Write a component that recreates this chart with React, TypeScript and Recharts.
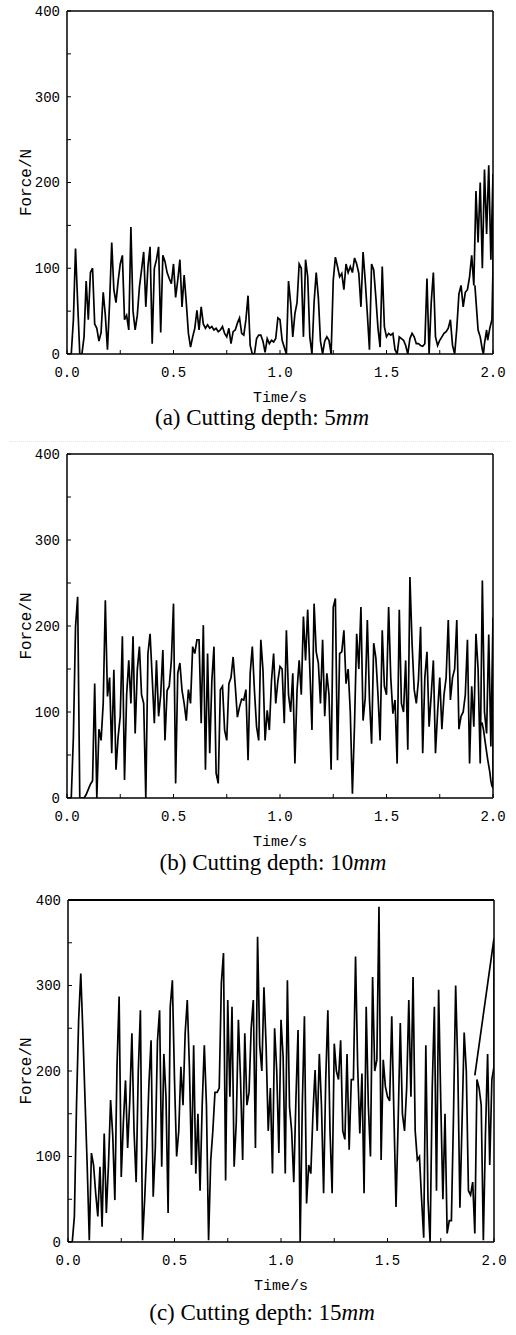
import React from 'react';
import { LineChart, Line, XAxis, YAxis, Label, ReferenceLine } from 'recharts';

const TIME_STEP = 0.01;
const X_TICKS = [0, 0.25, 0.5, 0.75, 1, 1.25, 1.5, 1.75, 2];
const Y_TICKS = [0, 50, 100, 150, 200, 250, 300, 350, 400];
const X_MAX = 2;
const Y_MAX = 400;

// (a) Cutting depth 5mm, sampled every 0.01 s from 0 to 2.0 s
const forceA = [
  0, 0, 0, 40, 123, 60, 0, 0, 20, 85,
  40, 95, 100, 35, 30, 15, 25, 72, 45, 5,
  60, 130, 75, 60, 85, 105, 115, 40, 45, 28,
  148, 50, 28, 45, 78, 98, 119, 55, 102, 125,
  12, 100, 110, 125, 25, 115, 108, 95, 88, 82,
  105, 66, 86, 110, 55, 92, 60, 24, 8, 20,
  30, 51, 28, 55, 35, 30, 34, 30, 32, 28,
  30, 26, 28, 32, 24, 20, 30, 12, 26, 28,
  36, 42, 24, 22, 40, 68, 10, 0, 0, 18,
  22, 22, 15, 2, 18, 12, 16, 14, 18, 42,
  40, 16, 8, 0, 85, 59, 20, 47, 60, 105,
  100, 20, 110, 90, 20, 0, 60, 95, 66, 15,
  0, 15, 20, 16, 0, 86, 113, 102, 90, 94,
  75, 105, 95, 102, 95, 112, 105, 94, 55, 119,
  86, 47, 5, 105, 98, 66, 30, 8, 102, 32,
  20, 24, 22, 24, 5, 0, 20, 18, 16, 10,
  0, 18, 24, 20, 12, 12, 10, 9, 12, 88,
  0, 60, 95, 20, 10, 16, 20, 24, 26, 30,
  40, 10, 0, 30, 70, 80, 55, 72, 75, 90,
  115, 80, 190, 130, 200, 100, 215, 140, 220, 110,
  210,
];
const tailTimeA = [2.0, 1.995, 1.985, 1.975, 1.97, 1.96, 1.955, 1.95, 1.94, 1.93, 1.915];
const tailForceA = [100, 40, 30, 16, 28, 12, 0, 5, 20, 28, 80];

// (b) Cutting depth 10mm
const forceB = [
  0, 0, 0, 71, 199, 234, 0, 0, 0, 4,
  10, 16, 20, 133, 0, 80, 67, 110, 230, 118,
  140, 52, 149, 33, 71, 95, 188, 21, 120, 160,
  110, 188, 75, 149, 176, 120, 110, 0, 168, 191,
  140, 87, 160, 95, 120, 172, 67, 125, 130, 160,
  226, 17, 145, 157, 125, 110, 90, 126, 110, 176,
  168, 184, 184, 87, 201, 33, 168, 52, 136, 176,
  29, 17, 126, 130, 79, 67, 133, 140, 164, 130,
  94, 106, 115, 114, 126, 44, 145, 176, 125, 83,
  67, 184, 149, 67, 102, 79, 136, 168, 110, 136,
  153, 150, 87, 195, 120, 100, 145, 40, 125, 160,
  120, 211, 160, 219, 150, 79, 226, 170, 157, 110,
  184, 95, 145, 120, 33, 222, 232, 44, 168, 170,
  195, 133, 150, 100, 5, 87, 191, 150, 222, 90,
  116, 207, 115, 63, 180, 163, 120, 67, 195, 130,
  120, 222, 140, 98, 114, 40, 219, 110, 100, 160,
  56, 257, 180, 126, 110, 137, 199, 52, 140, 170,
  83, 120, 160, 52, 100, 140, 80, 120, 140, 207,
  114, 140, 150, 207, 80, 95, 100, 120, 184, 40,
  130, 83, 191, 150, 40, 253, 100, 75, 190, 60,
  210,
];
const tailTimeB = [2.0, 1.995, 1.99, 1.985, 1.975, 1.965, 1.955, 1.948];
const tailForceB = [12, 14, 20, 30, 45, 62, 80, 88];

// (c) Cutting depth 15mm
const forceC = [
  0, 0, 0, 30, 160, 260, 314, 244, 166, 90,
  2, 104, 90, 57, 30, 88, 18, 127, 34, 90,
  166, 125, 49, 205, 287, 76, 140, 189, 110, 165,
  244, 130, 70, 200, 271, 2, 50, 110, 185, 236,
  53, 110, 235, 271, 88, 220, 170, 34, 275, 306,
  190, 100, 130, 205, 160, 244, 283, 205, 90, 230,
  80, 150, 60, 160, 230, 160, 2, 95, 130, 175,
  175, 180, 303, 338, 72, 283, 170, 275, 88, 140,
  260, 190, 96, 244, 160, 175, 250, 283, 110, 357,
  230, 200, 298, 230, 130, 180, 80, 250, 200, 104,
  260, 216, 80, 306, 158, 130, 70, 166, 248, 0,
  160, 264, 45, 90, 80, 150, 201, 130, 220, 160,
  57, 190, 271, 130, 57, 232, 200, 190, 236, 130,
  120, 220, 108, 190, 190, 334, 205, 127, 197, 57,
  275, 160, 100, 310, 200, 213, 392, 96, 213, 182,
  170, 165, 264, 150, 41, 140, 256, 150, 130, 180,
  283, 170, 310, 130, 96, 100, 50, 5, 230, 50,
  0, 180, 275, 60, 295, 165, 50, 150, 10, 25,
  25, 150, 300, 205, 40, 140, 245, 200, 60, 55,
  70, 10, 190, 180, 160, 2, 127, 220, 90, 190,
  205,
];
const tailTimeC = [2.0, 1.91];
const tailForceC = [355, 195];

type Pt = { t: number; f: number };

function buildData(forces: number[], tailTimes: number[], tailForces: number[]): Pt[] {
  const main = forces.map((f, i) => ({ t: Math.round(i * TIME_STEP * 1000) / 1000, f }));
  const tail = tailTimes.map((t, i) => ({ t, f: tailForces[i] }));
  return [...main, ...tail];
}

const TICK_FONT = { fontFamily: '"Liberation Mono", "DejaVu Sans Mono", monospace', fontSize: 14, fill: '#000' };
const TITLE_FONT = '"Liberation Mono", "DejaVu Sans Mono", monospace';

const fmtX = (v: number) => (Math.abs(v * 2 - Math.round(v * 2)) < 1e-9 ? v.toFixed(1) : '');
const fmtY = (v: number) => (v % 100 === 0 ? String(v) : '');

type PanelProps = {
  top: number;
  plotTop: number;
  plotBottom: number;
  plotLeft: number;
  plotRight: number;
  data: Pt[];
  letter: string;
  depth: string;
  captionX: number;
  captionY: number;
  topStroke: number;
};

function Panel(p: PanelProps) {
  const xAxisH = 62;
  const height = p.plotBottom - p.top + xAxisH;
  return (
    <>
      <div style={{ position: 'absolute', left: 0, top: p.top }}>
        <LineChart
          width={516}
          height={height}
          data={p.data}
          margin={{ top: p.plotTop - p.top, right: 516 - p.plotRight, bottom: 0, left: 0 }}
        >
          <XAxis
            dataKey="t"
            type="number"
            domain={[0, X_MAX]}
            ticks={X_TICKS}
            tickFormatter={fmtX}
            interval={0}
            height={xAxisH}
            tickSize={-4}
            tickMargin={17}
            tick={TICK_FONT}
            stroke="#000"
            axisLine={{ stroke: '#000', strokeWidth: 1.5 }}
            tickLine={{ stroke: '#000', strokeWidth: 1 }}
            allowDataOverflow
          >
            <Label
              value="Time/s"
              position="insideBottom"
              offset={14}
              style={{ fontFamily: TITLE_FONT, fontSize: 15, fill: '#000' }}
            />
          </XAxis>
          <YAxis
            type="number"
            domain={[0, Y_MAX]}
            ticks={Y_TICKS}
            tickFormatter={fmtY}
            interval={0}
            width={p.plotLeft}
            tickSize={-4}
            tickMargin={11}
            tick={TICK_FONT}
            stroke="#000"
            axisLine={{ stroke: '#000', strokeWidth: 1.5 }}
            tickLine={{ stroke: '#000', strokeWidth: 1 }}
            allowDataOverflow
          >
            <Label
              value="Force/N"
              angle={-90}
              position="insideLeft"
              offset={25}
              style={{ fontFamily: TITLE_FONT, fontSize: 16, fill: '#000', textAnchor: 'middle' }}
            />
          </YAxis>
          <ReferenceLine y={Y_MAX} stroke="#000" strokeWidth={p.topStroke} ifOverflow="visible" />
          <ReferenceLine x={X_MAX} stroke="#000" strokeWidth={1.5} ifOverflow="visible" />
          <Line
            type="linear"
            dataKey="f"
            stroke="#000"
            strokeWidth={1.7}
            dot={false}
            isAnimationActive={false}
          />
        </LineChart>
      </div>
      <div
        style={{
          position: 'absolute',
          left: p.captionX - 200,
          width: 400,
          top: p.captionY - 11,
          height: 22,
          lineHeight: '22px',
          textAlign: 'center',
          fontFamily: '"Liberation Serif", "Times New Roman", serif',
          fontSize: 23,
          color: '#000',
          whiteSpace: 'nowrap',
        }}
      >
        ({p.letter}) Cutting depth: {p.depth}
        <i>mm</i>
      </div>
    </>
  );
}

const dataA = buildData(forceA, tailTimeA, tailForceA);
const dataB = buildData(forceB, tailTimeB, tailForceB);
const dataC = buildData(forceC, tailTimeC, tailForceC);

export default function App() {
  return (
    <div style={{ position: 'absolute', left: 0, top: 0, width: 516, height: 1335, background: '#fff' }}>
      <Panel top={0} plotTop={11} plotBottom={354} plotLeft={67} plotRight={493} data={dataA}
        letter="a" depth="5" captionX={262} captionY={418} topStroke={1.5} />
      <div style={{ position: 'absolute', left: 10, width: 500, top: 441, borderTop: '1px dotted #e2e2e2' }} />
      <Panel top={443} plotTop={454} plotBottom={798} plotLeft={67} plotRight={493} data={dataB}
        letter="b" depth="10" captionX={273} captionY={863} topStroke={1.5} />
      <Panel top={889} plotTop={900} plotBottom={1242} plotLeft={68} plotRight={494} data={dataC}
        letter="c" depth="15" captionX={262} captionY={1313} topStroke={2.2} />
    </div>
  );
}
